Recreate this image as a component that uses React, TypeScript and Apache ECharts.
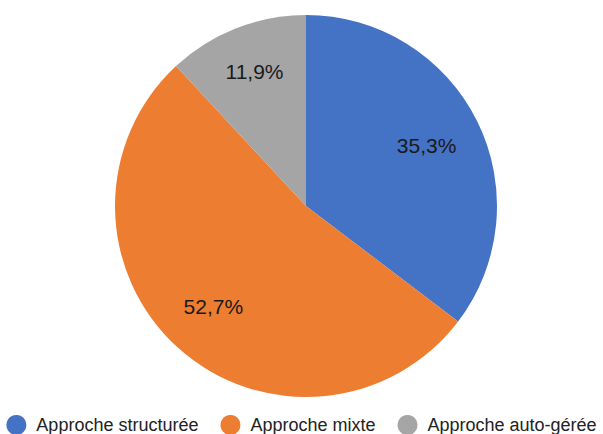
import React, { useEffect, useRef } from "react";
import * as echarts from "echarts";

const categories = ["Approche structurée", "Approche mixte", "Approche auto-gérée"];
const shares = [35.3, 52.7, 11.9];
const colors = ["#4472C4", "#ED7D31", "#A5A5A5"];

const fmt = (v: number) => v.toFixed(1).replace(".", ",") + "%";
const FONT = "'Liberation Sans', Arial, sans-serif";

export default function App() {
  const ref = useRef<HTMLDivElement>(null);

  useEffect(() => {
    document.body.style.margin = "0";
    const chart = echarts.init(ref.current!, undefined, { renderer: "svg" });
    const data = categories.map((name, i) => ({
      name,
      value: shares[i],
      itemStyle: { color: colors[i] },
    }));
    chart.setOption({
      animation: false,
      backgroundColor: "#ffffff",
      legend: {
        data: categories,
        left: "center",
        top: 415,
        padding: 0,
        icon: "circle",
        itemWidth: 20,
        itemHeight: 20,
        itemGap: 22,
        textStyle: {
          fontFamily: FONT,
          fontSize: 18,
          lineHeight: 20,
          color: "#222222",
          padding: [0, 0, 0, 5],
        },
      },
      series: [
        {
          type: "pie",
          center: [306, 206],
          radius: [0, 191],
          startAngle: 90,
          clockwise: true,
          silent: true,
          label: { show: false },
          labelLine: { show: false },
          data,
        },
        {
          type: "pie",
          center: [306, 206],
          radius: [79, 191],
          startAngle: 90,
          clockwise: true,
          silent: true,
          itemStyle: { color: "transparent" },
          emphasis: { disabled: true },
          label: {
            show: true,
            position: "inside",
            formatter: (p: any) => fmt(p.value),
            fontFamily: FONT,
            fontSize: 21,
            color: "#1a1a1a",
          },
          labelLine: { show: false },
          data: categories.map((name, i) => ({
            name,
            value: shares[i],
            itemStyle: { color: "transparent" },
            label: i === 0 ? { offset: [-3, 1] } : i === 1 ? { offset: [0, -2] } : { offset: [-1, -6] },
          })),
        },
      ],
    });
    return () => chart.dispose();
  }, []);

  return <div ref={ref} style={{ width: 603, height: 434 }} />;
}
